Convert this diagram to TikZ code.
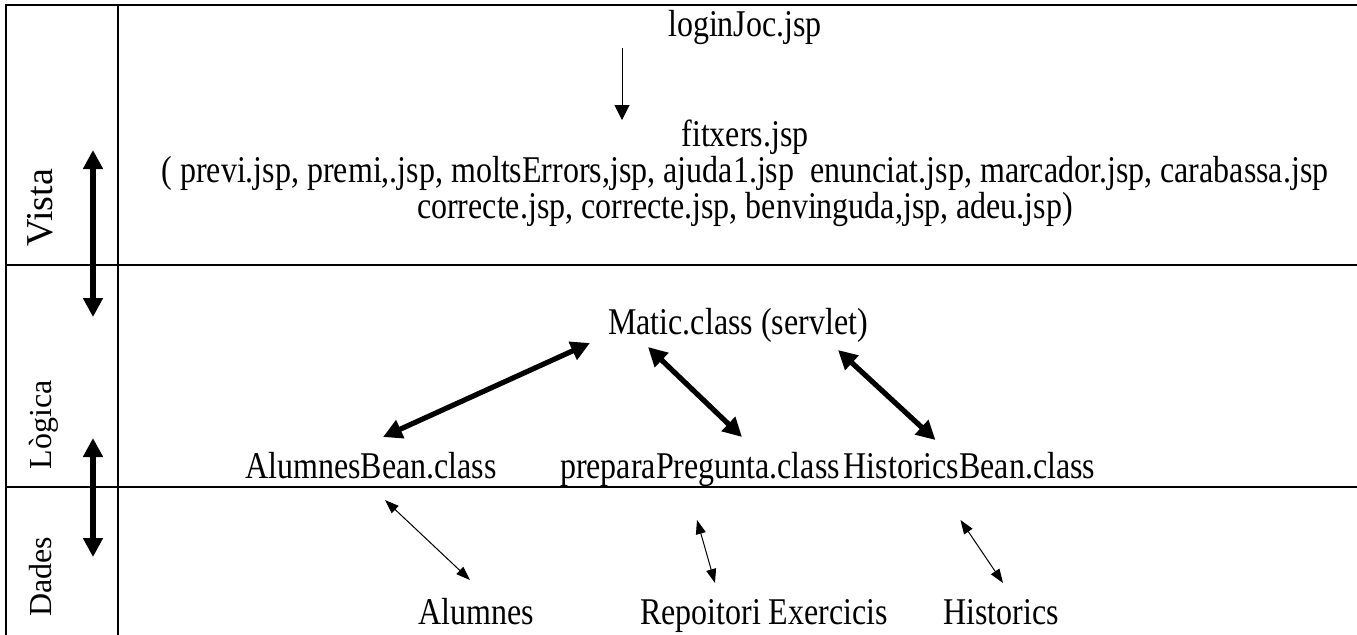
\documentclass[tikz,border=0pt]{standalone}
\usepackage{fontspec}
\setmainfont{Liberation Serif}
\usetikzlibrary{arrows.meta,calc}
\begin{document}
\begin{tikzpicture}[x=0.5pt,y=-0.5pt,
  txt/.style={inner sep=0pt,anchor=base,yscale=1.18,font=\fontsize{16}{15.3}\selectfont},
  layer/.style={inner sep=0pt,anchor=base,rotate=90,font=\fontsize{16}{16}\selectfont},
  rule/.style={line width=1pt,line cap=rect},
  thinarrow/.style={line width=0.5pt,{Triangle[length=7pt,width=5pt]}-{Triangle[length=7pt,width=5pt]}},
  downarrow/.style={line width=0.5pt,-{Triangle[length=7.5pt,width=7.5pt]}},
  boldarrow/.style={line width=2.6pt,{Triangle[length=9.5pt,width=9.5pt]}-{Triangle[length=9.5pt,width=9.5pt]}}]
\useasboundingbox (0,0) rectangle (1357,634);

% table grid
\draw[rule] (1357,5) -- (6,5) -- (6,634);
\draw[rule] (118,5) -- (118,634);
\draw[rule] (6,265) -- (1357,265);
\draw[rule] (6,487) -- (1357,487);

% layer names
\node[layer,font=\fontsize{19}{19}\selectfont] (vista) at (53,208) {Vista};
\node[layer] (logica) at (52,425) {Lògica};
\node[layer] (dades) at (52,577) {Dades};

% arrows between layers
\coordinate (v1) at (93,150);
\coordinate (v2) at (93,317);
\coordinate (d1) at (93,438);
\coordinate (d2) at (93,557);
\draw[boldarrow] (v1) -- (v2);
\draw[boldarrow] (d1) -- (d2);

% view layer
\node[txt] (login) at (745,36) {loginJoc.jsp};
\node[txt,anchor=north,align=center] (fitx) at (745,119)
  {fitxers.jsp\\
   ( previ.jsp, premi,.jsp, moltsErrors,jsp, ajuda1.jsp\ \ enunciat.jsp, marcador.jsp, carabassa.jsp\\
   correcte.jsp, correcte.jsp, benvinguda,jsp, adeu.jsp)};
\coordinate (ax) at (622,0);
\draw[downarrow] ($(login.base -| ax)+(0,12)$) -- ($(fitx.north -| ax)+(0,1)$);

% logic layer
\node[txt] (matic) at (738,334) {Matic.class (servlet)};
\node[txt] (alb) at (371,478) {AlumnesBean.class};
\node[txt] (prep) at (700,478) {preparaPregunta.class};
\node[txt] (hisb) at (969.5,478) {HistoricsBean.class};

\draw[boldarrow] ($(matic.base)+(-148,9)$) -- ($(alb.base)+(12,-41)$);
\draw[boldarrow] ($(matic.base)+(-90,13)$) -- ($(prep.base)+(42,-41)$);
\draw[boldarrow] ($(matic.base)+(100,16)$) -- ($(hisb.base)+(-34,-38)$);

% data layer
\node[txt] (alu) at (476,624) {Alumnes};
\node[txt] (rep) at (764,624) {Repoitori Exercicis};
\node[txt] (his) at (1001,624) {Historics};

\draw[thinarrow] ($(alb.base)+(14,22)$) -- ($(alu.base)+(-6,-44)$);
\draw[thinarrow] ($(prep.base)+(-3,42)$) -- ($(rep.base)+(-49,-41)$);
\draw[thinarrow] ($(hisb.base)+(-9,42)$) -- ($(his.base)+(2,-41)$);
\end{tikzpicture}
\end{document}
